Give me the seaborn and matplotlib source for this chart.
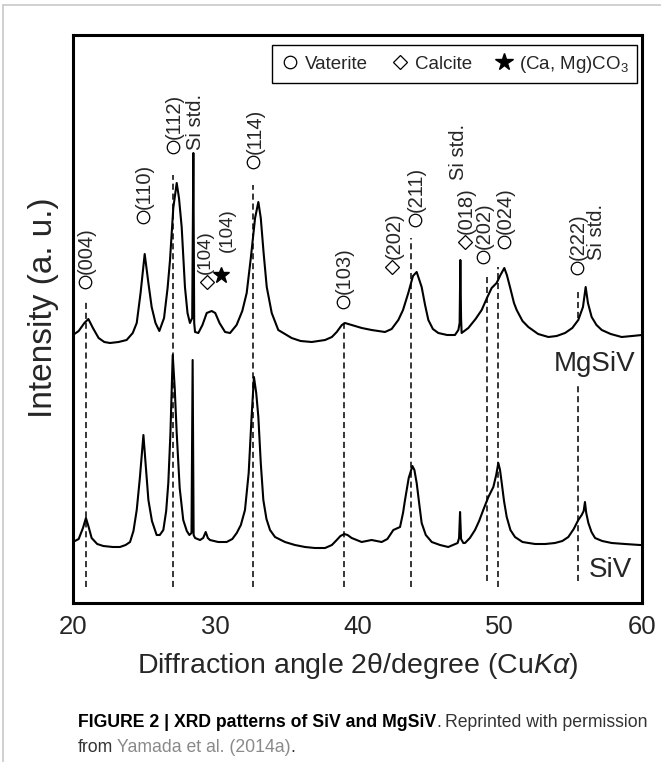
import matplotlib
matplotlib.use('Agg')
import matplotlib.pyplot as plt
import seaborn as sns
import pandas as pd
from matplotlib.lines import Line2D
from matplotlib import font_manager

# XRD pattern of MgSiV (upper trace), intensity in arbitrary units
two_theta_mgsiv = [20.00, 20.40, 20.80, 21.08, 21.40, 21.80, 22.20, 22.60, 23.20, 23.77,
                   24.20, 24.48, 24.75, 25.04, 25.30, 25.53, 25.80, 26.07, 26.40, 26.65,
                   26.82, 27.05, 27.29, 27.45, 27.64, 27.87, 28.05, 28.22, 28.38, 28.46,
                   28.52, 28.58, 28.81, 29.10, 29.40, 29.75, 30.00, 30.30, 30.69, 31.04,
                   31.50, 31.90, 32.21, 32.50, 32.80, 33.03, 33.20, 33.40, 33.62, 33.97,
                   34.43, 35.37, 36.00, 36.78, 37.72, 38.20, 38.54, 38.90, 39.12, 39.59,
                   40.30, 40.99, 41.93, 42.40, 42.87, 43.20, 43.57, 43.90, 44.16, 44.30,
                   44.51, 44.75, 44.98, 45.30, 45.68, 46.30, 46.85, 47.09, 47.18, 47.23,
                   47.28, 47.32, 47.79, 48.30, 48.73, 49.10, 49.43, 49.78, 50.05, 50.32,
                   50.50, 50.72, 51.00, 51.19, 51.60, 52.01, 52.70, 53.42, 54.00, 54.59,
                   55.10, 55.52, 55.85, 56.04, 56.20, 56.46, 56.80, 57.17, 57.80, 58.57,
                   59.30, 60.00]
intensity_mgsiv = [268, 272, 280, 284, 275, 265, 261, 260, 261, 263,
                   270, 280, 310, 349, 320, 296, 280, 272, 285, 315,
                   343, 395, 420, 405, 376, 316, 290, 280, 285, 450,
                   280, 271, 270, 278, 290, 292, 290, 280, 271, 270,
                   278, 292, 310, 345, 385, 401, 385, 350, 316, 290,
                   273, 265, 262, 261, 263, 266, 271, 278, 280, 278,
                   275, 273, 271, 274, 283, 293, 310, 327, 331, 325,
                   316, 298, 283, 274, 270, 268, 268, 273, 280, 343,
                   285, 270, 275, 284, 293, 305, 315, 320, 328, 335,
                   328, 316, 300, 293, 282, 276, 269, 266, 267, 270,
                   275, 283, 296, 316, 300, 286, 278, 273, 269, 266,
                   267, 268]

# XRD pattern of SiV (lower trace)
two_theta_siv = [20.00, 20.40, 20.70, 20.91, 21.10, 21.31, 21.70, 22.13, 22.80, 23.30,
                 23.70, 24.01, 24.25, 24.48, 24.70, 24.95, 25.10, 25.30, 25.55, 25.88,
                 26.10, 26.35, 26.55, 26.70, 26.85, 27.01, 27.15, 27.29, 27.50, 27.75,
                 28.00, 28.18, 28.33, 28.41, 28.48, 28.58, 28.93, 29.15, 29.33, 29.48,
                 29.63, 30.20, 30.80, 31.20, 31.51, 31.80, 32.09, 32.35, 32.55, 32.72,
                 32.88, 33.03, 33.20, 33.38, 33.60, 33.85, 34.20, 34.90, 35.60, 36.31,
                 37.00, 37.72, 38.20, 38.54, 38.80, 39.07, 39.30, 39.59, 40.29, 40.99,
                 41.70, 42.10, 42.52, 42.99, 43.20, 43.34, 43.60, 43.86, 44.00, 44.16,
                 44.35, 44.51, 44.80, 45.22, 45.80, 46.38, 47.04, 47.14, 47.21, 47.28,
                 47.44, 47.56, 47.90, 48.26, 48.55, 48.84, 49.20, 49.55, 49.75, 49.90,
                 50.02, 50.14, 50.30, 50.49, 50.75, 51.07, 51.60, 52.48, 53.20, 53.88,
                 54.40, 54.82, 55.20, 55.52, 55.76, 55.90, 55.99, 56.08, 56.23, 56.45,
                 56.70, 57.20, 57.87, 58.80, 59.86, 60.00]
intensity_siv = [61, 64, 75, 85, 76, 65, 59, 57, 56, 56,
                 58, 61, 72, 93, 125, 168, 140, 103, 82, 68,
                 68, 73, 92, 120, 170, 248, 215, 170, 115, 83,
                 72, 68, 70, 243, 68, 65, 63, 65, 71, 65,
                 63, 61, 61, 64, 70, 78, 93, 130, 185, 226,
                 210, 186, 140, 103, 84, 73, 66, 61, 58, 56,
                 55, 55, 58, 63, 67, 69, 68, 65, 61, 63,
                 61, 64, 73, 76, 90, 103, 125, 137, 133, 120,
                 98, 80, 68, 61, 58, 56, 60, 65, 91, 64,
                 60, 60, 65, 73, 82, 93, 106, 116, 128, 140,
                 133, 120, 102, 86, 73, 66, 61, 59, 59, 60,
                 62, 66, 74, 83, 88, 92, 101, 90, 80, 71,
                 65, 62, 60, 59, 58, 58]

# dashed reference lines
ref_pos = [20.89, 27.00, 32.68, 39.07, 43.76, 49.08, 49.85, 55.52, 55.52]
ref_top = [303, 428, 418, 283, 365, 328, 336, 311, 218]
ref_bottom = [16, 16, 16, 16, 16, 22, 16, 285, 22]

# peak assignments
vaterite_x = [20.84, 24.94, 27.05, 32.68, 38.96, 44.04, 48.84, 50.30, 55.40]
vaterite_y = [321, 386, 456, 441, 301, 383, 346, 361, 335]
vaterite_hkl = ['(004)', '(110)', '(112)', '(114)', '(103)', '(211)', '(202)', '(024)', '(222)']
calcite_x = [29.40, 42.45, 47.56]
calcite_y = [321, 336, 361]
calcite_hkl = ['(104)', '(202)', '(018)']
calcite_text_dx = [-0.1, 0.1, 0.1]
mgcalcite_x = [30.38]
mgcalcite_y = [328]
mgcalcite_hkl = ['(104)']
mgcalcite_text_x = [30.85]
mgcalcite_text_y = [351]
si_x = [28.58, 47.08, 56.81]
si_y = [453, 423, 343]

legend_labels = ['Vaterite', 'Calcite', '(Ca, Mg)CO$_3$']

W, H = 661, 762
sns.set_style('white')
plt.rcParams['font.family'] = ['Liberation Sans', 'DejaVu Sans']
plt.rcParams['mathtext.fontset'] = 'custom'
plt.rcParams['mathtext.rm'] = 'Liberation Sans'
plt.rcParams['mathtext.it'] = 'Liberation Sans:italic'

fig = plt.figure(figsize=(W / 100, H / 100), dpi=100)
ax = fig.add_axes([73 / W, 1 - 603 / H, 569 / W, 568 / H])

mg = pd.DataFrame({'two_theta': two_theta_mgsiv, 'intensity': intensity_mgsiv})
si = pd.DataFrame({'two_theta': two_theta_siv, 'intensity': intensity_siv})
sns.lineplot(data=mg, x='two_theta', y='intensity', color='black', lw=1.5, sort=False, ax=ax)
sns.lineplot(data=si, x='two_theta', y='intensity', color='black', lw=1.5, sort=False, ax=ax)

ax.vlines(ref_pos, ref_bottom, ref_top, colors='black', linestyles=(0, (4, 2.5)), lw=1.1)

lab_fs = 14.5
ax.plot(vaterite_x, vaterite_y, 'o', ms=9, mfc='white', mec='black', mew=0.9)
ax.plot(calcite_x, calcite_y, 'D', ms=7.5, mfc='white', mec='black', mew=0.9)
ax.plot(mgcalcite_x, mgcalcite_y, '*', ms=12, color='black')
for x, y, s in zip(vaterite_x, vaterite_y, vaterite_hkl):
    ax.text(x + 0.1, y + 8, s, rotation=90, ha='center', va='bottom', fontsize=lab_fs)
for x, y, s, dx in zip(calcite_x, calcite_y, calcite_hkl, calcite_text_dx):
    fs = 13.5 if dx < 0 else lab_fs
    ax.text(x + dx, y + 8, s, rotation=90, ha='center', va='bottom', fontsize=fs)
for x, y, s in zip(mgcalcite_text_x, mgcalcite_text_y, mgcalcite_hkl):
    ax.text(x, y, s, rotation=90, ha='center', va='bottom', fontsize=13.5)
for x, y in zip(si_x, si_y):
    ax.text(x, y, 'Si std.', rotation=90, ha='center', va='bottom', fontsize=lab_fs)

ax.text(59.5, 232, 'MgSiV', ha='right', va='baseline', fontsize=20)
ax.text(59.3, 26, 'SiV', ha='right', va='baseline', fontsize=20)

handles = [Line2D([], [], ls='none', marker='o', ms=9, mfc='white', mec='black', mew=0.9),
           Line2D([], [], ls='none', marker='D', ms=7.5, mfc='white', mec='black', mew=0.9),
           Line2D([], [], ls='none', marker='*', ms=13, color='black')]
leg = ax.legend(handles, legend_labels, ncol=3, loc='upper right', bbox_to_anchor=(0.991, 0.982),
                frameon=True, fancybox=False, edgecolor='black', framealpha=1, fontsize=13.5,
                handlelength=1.0, handletextpad=0.3, columnspacing=1.2, borderpad=0.45,
                borderaxespad=0)
leg.get_frame().set_linewidth(1.0)

ax.set_xlim(20, 60)
ax.set_ylim(0, 568)
ax.set_xticks([20, 30, 40, 50, 60])
ax.set_xticks([25, 35, 45, 55], minor=True)
ax.set_yticks([33, 235])
ax.set_yticklabels([])
ax.tick_params(axis='x', which='major', direction='in', length=8, width=1.6, labelsize=18.5, pad=9)
ax.tick_params(axis='x', which='minor', direction='in', length=5, width=1.6)
ax.tick_params(axis='y', direction='in', length=4, width=1.4)
for sp in ax.spines.values():
    sp.set_linewidth(2.2)
    sp.set_color('black')

ax.set_xlabel('Diffraction angle 2\u03b8/degree (Cu$K\\alpha$)', fontsize=20.5, labelpad=8)
ax.set_ylabel('Intensity (a. u.)', fontsize=24)
ax.yaxis.set_label_coords(-0.025, 0.52)

# caption below the figure
names = {f.name for f in font_manager.fontManager.ttflist}
cap_font = 'Liberation Sans Narrow' if 'Liberation Sans Narrow' in names else 'Liberation Sans'
renderer = fig.canvas.get_renderer()


def caption_line(pieces, x_px, y_px):
    x = x_px
    for s, weight, color, gap in pieces:
        t = fig.text(x / W, 1 - y_px / H, s, fontsize=12.7, fontweight=weight, color=color,
                     family=cap_font, ha='left', va='baseline')
        x = t.get_window_extent(renderer).x1 + gap


caption_line([('FIGURE 2 | XRD patterns of SiV and MgSiV', 'bold', 'black', 0),
              ('.', 'normal', '#333333', 4),
              ('Reprinted with permission', 'normal', '#333333', 0)], 78, 727)
caption_line([('from', 'normal', '#333333', 4),
              ('Yamada et al. (2014a)', 'normal', '#8a8a8a', 0),
              ('.', 'normal', '#333333', 0)], 78, 752)

# page frame
fig.add_artist(Line2D([3 / W, 3 / W], [0, 1 - 5 / H], color='#c8c8c8', lw=1.2))
fig.add_artist(Line2D([3 / W, 1], [1 - 5 / H, 1 - 5 / H], color='#c8c8c8', lw=1.2))

fig.savefig('out.png', dpi=100)
